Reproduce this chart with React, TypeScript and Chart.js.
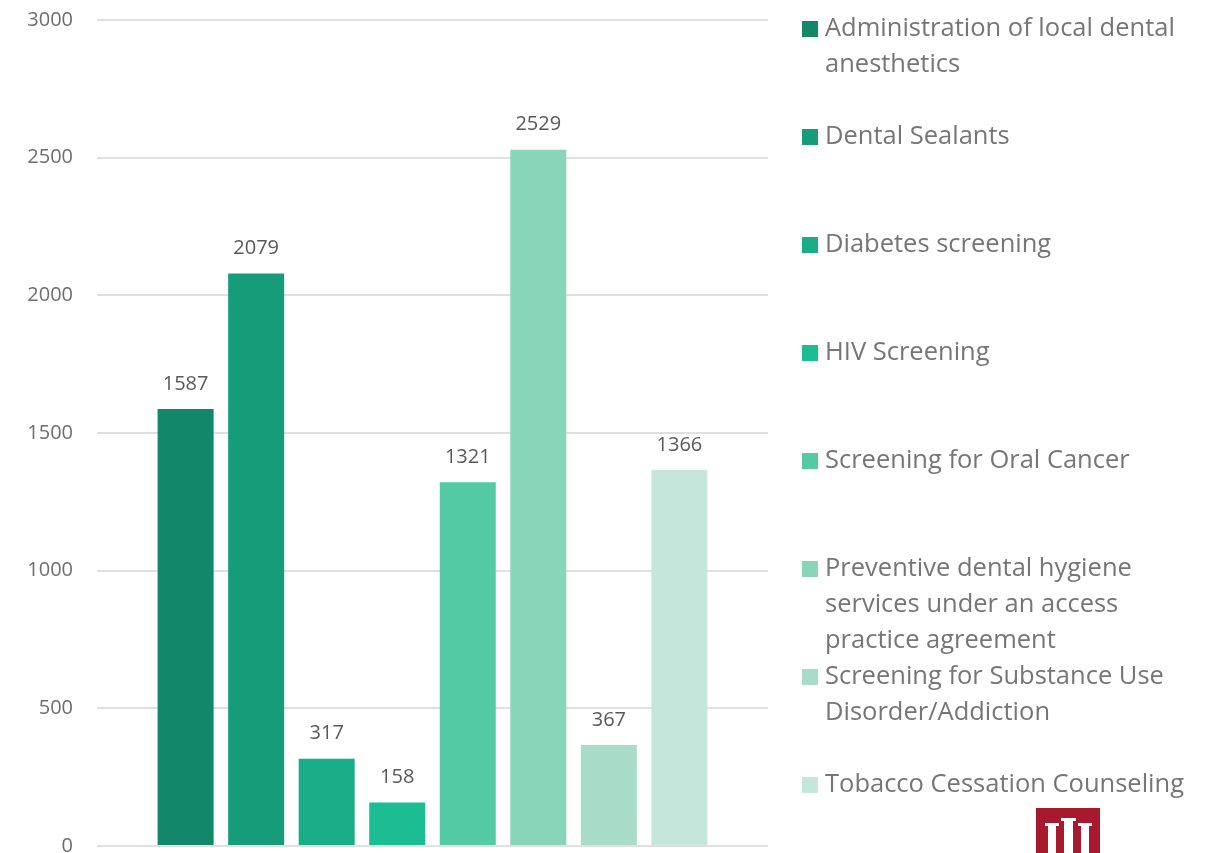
import React, { useEffect, useRef } from "react";
import { Chart, registerables } from "chart.js";

Chart.register(...registerables);

const categories = [
  "Administration of local dental anesthetics",
  "Dental Sealants",
  "Diabetes screening",
  "HIV Screening",
  "Screening for Oral Cancer",
  "Preventive dental hygiene services under an access practice agreement",
  "Screening for Substance Use Disorder/Addiction",
  "Tobacco Cessation Counseling",
];

const legendLines = [
  ["Administration of local dental", "anesthetics"],
  ["Dental Sealants"],
  ["Diabetes screening"],
  ["HIV Screening"],
  ["Screening for Oral Cancer"],
  ["Preventive dental hygiene", "services under an access", "practice agreement"],
  ["Screening for Substance Use", "Disorder/Addiction"],
  ["Tobacco Cessation Counseling"],
];

const values = [1587, 2079, 317, 158, 1321, 2529, 367, 1366];

const colors = [
  "#12876A",
  "#169C79",
  "#1AAD88",
  "#1DBD93",
  "#53C9A4",
  "#88D5B9",
  "#A8DCC9",
  "#C5E7DB",
];

const yTicks = [0, 500, 1000, 1500, 2000, 2500, 3000];

const FONT = "'Open Sans', 'DejaVu Sans', sans-serif";

const labelPlugin = {
  id: "barLabels",
  afterDatasetsDraw(chart: any) {
    const ctx = chart.ctx;
    ctx.save();
    ctx.font = `20px ${FONT}`;
    ctx.fillStyle = "#595959";
    ctx.textAlign = "center";
    ctx.textBaseline = "middle";
    chart.data.datasets.forEach((ds: any, i: number) => {
      const meta = chart.getDatasetMeta(i);
      const el = meta.data[0];
      if (!el) return;
      ctx.fillText(String(ds.data[0]), el.x, el.y - 25);
    });
    ctx.restore();
  },
};

const legendPlugin = {
  id: "sideLegend",
  afterDraw(chart: any) {
    const ctx = chart.ctx;
    ctx.save();
    ctx.font = `25.5px ${FONT}`;
    ctx.textAlign = "left";
    ctx.textBaseline = "middle";
    legendLines.forEach((lines, i) => {
      const y0 = 29 + 108 * i;
      ctx.fillStyle = colors[i];
      ctx.fillRect(802, y0 - 8, 16, 16);
      ctx.fillStyle = "#767676";
      lines.forEach((ln, j) => {
        ctx.fillText(ln, 825, y0 + 36 * j);
      });
    });
    // logo
    ctx.fillStyle = "#A6192E";
    ctx.fillRect(1036, 808, 64, 45);
    ctx.fillStyle = "#FFFFFF";
    ctx.fillRect(1064, 818, 9, 35);
    ctx.fillRect(1061, 818, 15, 3);
    ctx.fillRect(1048, 823, 8, 30);
    ctx.fillRect(1045, 823, 14, 3);
    ctx.fillRect(1081, 823, 8, 30);
    ctx.fillRect(1078, 823, 14, 3);
    ctx.restore();
  },
};

export default function App() {
  const ref = useRef<HTMLCanvasElement | null>(null);

  useEffect(() => {
    document.body.style.margin = "0";
    if (!ref.current) return;
    const chart = new Chart(ref.current, {
      type: "bar",
      data: {
        labels: [""],
        datasets: categories.map((c, i) => ({
          label: c,
          data: [values[i]],
          backgroundColor: colors[i],
          borderWidth: 0,
          categoryPercentage: 0.841,
          barPercentage: 0.794,
        })),
      },
      options: {
        animation: false,
        responsive: true,
        maintainAspectRatio: false,
        layout: { padding: { top: 20, bottom: 7, left: 0, right: 438 } },
        plugins: {
          legend: { display: false },
          tooltip: { enabled: false },
        },
        scales: {
          x: { display: false },
          y: {
            min: 0,
            max: 3000,
            afterFit(scale: any) {
              scale.width = 97;
              scale.paddingTop = 0;
              scale.paddingBottom = 0;
            },
            afterBuildTicks(scale: any) {
              scale.ticks = yTicks.map((v) => ({ value: v }));
            },
            border: { display: false },
            grid: {
              color: "#E0E0E0",
              lineWidth: 2,
              drawTicks: false,
            },
            ticks: {
              padding: 24,
              color: "#6E6E6E",
              font: { family: FONT, size: 20 },
              callback: (v: any) => String(v),
            },
          },
        },
      },
      plugins: [labelPlugin, legendPlugin],
    });
    return () => chart.destroy();
  }, []);

  return (
    <div style={{ position: "absolute", left: 0, top: 0, width: 1206, height: 853 }}>
      <canvas ref={ref} />
    </div>
  );
}
